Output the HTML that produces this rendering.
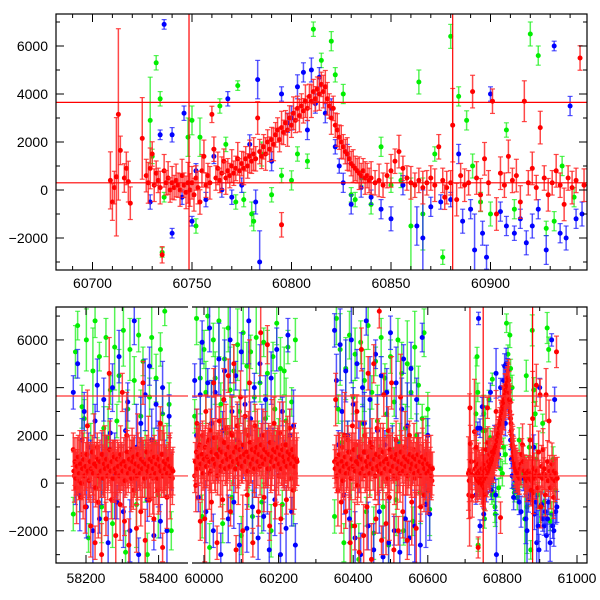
<!DOCTYPE html>
<html><head><meta charset="utf-8"><style>
html,body{margin:0;padding:0;background:#fff;}
svg{display:block;font-family:"Liberation Sans",Arial,sans-serif;}
</style></head><body>
<svg id="chart" width="600" height="600" viewBox="0 0 600 600" xmlns="http://www.w3.org/2000/svg">
<rect x="0" y="0" width="600" height="600" fill="#fff"/>
</svg>
<script>
const redT=[60709,60710,60711,60712,60713,60714,60716,60717,60718,60719,60725,60727,60728,60729,60730,60731,60732,60733,60734,60735,60736,60737,60738,60739,60740,60741,60742,60743,60744,60745,60746,60747,60748,60749,60750,60751,60752,60753,60754,60755,60756,60757,60758,60759,60760,60761,60762,60763,60764,60765,60766,60767,60768,60769,60770,60771,60772,60773,60774,60775,60776,60777,60778,60779,60780,60781,60782,60783,60784,60785,60786,60787,60788,60789,60790,60791,60792,60793,60794,60795,60796,60797,60798,60799,60800,60801,60802,60803,60804,60805,60806,60807,60808,60809,60810,60811,60812,60813,60814,60815,60816,60817,60818,60819,60820,60821,60822,60823,60824,60825,60826,60827,60828,60829,60830,60831,60832,60833,60834,60835,60836,60837,60838,60839,60840,60842,60844,60846,60848,60850,60852,60854,60856,60858,60860,60862,60864,60866,60868,60870,60872,60874,60876,60878,60880,60881,60883,60885,60887,60889,60891,60893,60895,60897,60899,60901,60903,60905,60907,60909,60911,60913,60915,60917,60919,60921,60923,60925,60927,60929,60931,60933,60935,60937,60939,60941,60943,60945,60947,60795,60877];
const redY=[400,-500,100,550,3150,1650,500,900,350,-550,2150,600,300,900,1500,200,700,400,100,-2700,800,300,500,0,300,100,400,200,0,600,200,-100,300,0,300,-200,500,100,-500,800,1400,200,600,300,3150,1700,500,900,400,700,1200,500,800,600,1000,700,900,1300,800,1100,900,1300,1000,1400,1200,1500,1300,3000,1600,1400,1800,1500,2000,1700,2100,1900,2300,2500,2100,2600,2400,2800,2500,3000,2700,3200,2900,3400,3100,3500,3300,3700,3400,3900,3700,4100,3800,4200,4000,4400,4100,4300,3800,3500,3000,3400,2700,2500,2200,2000,1800,1600,1500,1300,1100,1000,900,800,700,600,800,500,600,400,500,300,400,200,600,800,1200,1600,900,500,300,200,400,100,300,500,200,1800,400,100,300,2700,-400,600,200,300,4100,500,-200,1300,300,3700,-1000,700,200,1400,400,600,-500,3700,300,900,100,2600,500,-200,300,800,200,-600,500,100,400,5500,200,-1450,-300];
const redE=[700,450,400,1450,2100,350,350,400,500,400,1000,400,500,500,300,400,300,300,400,200,400,300,400,300,400,300,400,300,400,400,300,400,500,400,400,400,300,400,300,400,400,300,300,400,200,300,300,400,300,400,300,400,300,300,400,300,300,400,300,300,400,300,300,400,300,400,300,400,300,300,300,400,300,300,300,400,300,300,300,400,300,300,400,300,300,400,300,300,400,300,300,400,300,300,400,300,300,300,400,300,400,400,400,300,400,300,300,400,300,400,300,300,400,300,300,400,300,300,400,300,300,400,300,300,400,300,400,300,300,400,300,400,300,300,400,300,300,400,300,300,400,300,300,400,300,900,400,300,400,300,400,400,400,400,300,300,400,400,300,400,300,400,400,500,300,400,300,400,300,400,300,400,300,400,300,400,300,300,400,300,300];
const blueT=[60736,60734,60740,60740,60746,60750,60761,60768,60779,60783,60784,60782,60795,60798,60800,60803,60806,60810,60814,60820,60822,60826,60830,60835,60840,60845,60850,60856,60863,60866,60870,60875,60880,60884,60886,60890,60892,60896,60898,60900,60905,60908,60912,60915,60918,60921,60924,60928,60932,60935,60938,60940,60943,60946,60790,60775,60770,60765,60757,60752,60745,60729,60808,60812,60817,60824,60828];
const blueY=[6900,2300,2300,-1800,3200,-1300,1400,3800,1900,4600,-3000,-500,4000,2800,3000,4300,4900,5000,4700,3400,1800,300,-600,100,-300,-800,-1200,200,-1500,-2000,-700,-500,-400,1500,-1300,-800,-2500,-1800,-2800,4000,-900,-1500,-1800,-1200,-2200,-1500,-800,-2500,6000,-1800,-2000,3500,-1200,-1000,1200,200,-300,0,-400,800,-300,-500,2500,3600,3200,1000,1500];
const blueE=[200,200,300,200,300,200,300,300,400,800,1300,500,300,400,500,500,400,500,400,400,300,400,400,400,300,400,500,400,800,2000,400,300,300,400,500,400,1500,500,500,300,400,400,300,400,500,500,400,600,200,400,500,400,400,500,400,300,300,300,300,300,300,300,400,400,400,300,400];
const greenT=[60729,60730,60732,60734,60735,60736,60748,60750,60752,60754,60764,60767,60773,60772,60776,60780,60781,60785,60790,60795,60800,60803,60808,60811,60815,60820,60822,60826,60830,60832,60835,60840,60845,60850,60855,60860,60864,60866,60872,60876,60880,60884,60888,60891,60895,60900,60908,60912,60920,60924,60928,60932,60936,60942];
const greenY=[2900,1400,5300,3800,-2600,-300,2200,2900,-1500,2200,3500,1900,4350,-500,-400,-1000,-1300,1500,-200,600,400,1500,1200,6700,5400,6200,4800,4000,-200,-400,500,-600,1800,200,400,-1500,4500,-1000,1500,-2800,6400,3900,2900,1000,-500,-1000,2500,-800,6500,5600,-1600,-1300,1000,-300];
const greenE=[1800,300,300,300,200,200,800,600,300,800,300,300,200,300,300,500,400,500,300,300,400,300,300,300,300,400,300,400,300,300,300,400,400,300,300,2000,500,1500,300,300,500,400,400,500,400,500,300,400,500,400,300,400,400,400];
const seasonStart=[58165,59975,60350];
const redStep=3, bgStep=[6,5,5];
const redA=[1400,300,800,-200,500,100,900,-600,1200,300,600,-1000,400,2400,700,200,-1800,900,500,1100,-2500,300,1500,-800,700,200,-3000,1000,400,600,-1500,900,300,4600,800,-700,500,1200,200,-2200,700,400,1000,-900,600,3800,300,-1600,800,2000,500,-2600,900,300,1400,-300,700,200,-1900,1100,500,800,-1200,400,4200,600,-2400,900,300,1000,-700,500,1300,200,-1500,800,400,1100,-300,600,2500,500,-2700,900,300,700,-600,400,1000,300,500,200];
const redB=[300,-100,2500,800,1500,-1600,600,2000,1200,-1500,3000,900,1700,400,2200,-800,1400,4200,700,1900,-2500,1100,2600,500,1800,-700,3500,1000,2300,600,4500,1300,-1200,2100,800,5000,1500,-2800,2400,900,1700,3600,600,-2000,1300,2800,1000,-500,2000,4200,700,1500,-2500,1100,2400,600,1800,-1200,1300,6300,900,2000,-600,1500,800,5800,1200,-1800,600,1700,1000,2500,-900,700,1400,300,2100,-1500,900,1600,400,1100,-700,1300,600,2300,200,900,-300,700,400,1000];
const redC=[900,3500,200,-300,1200,600,-800,1500,300,2000,-1200,800,1800,400,-2500,1300,2400,700,-1800,1600,3000,500,-2900,1100,5600,900,-2200,2000,1300,-1000,4600,800,1700,-3200,1200,5000,600,-1500,2300,900,7200,1400,-2400,800,3700,1100,-1700,500,2200,-600,1300,4200,700,-2800,1000,1800,200,-2000,600,3600,1300,-1200,900,1500,400,-2400,1100,2000,500,-800,700,1400,200,-1900,800,1100,300,-1000,600,900,-500,400,1200,200,-300,500,700,100];
const bandA=[500,900,200,700,1100,400,800,0,600,1000,300,700,1200,500,100,900,600,1300,400,800,-200,700,1000,300,900,500,1200,200,800,600,1000,300,700,1400,500,900,200,1100,600,400,1000,700,300,1200,800,500,900,100,700,1300,400,1000,600,200,900,1100,500,800,300,1200,700,400,1000,600,900,200,800,1300,500,700,1000,300,900,600,1100,400,800,200,1000,700,500,1200,300,900,600,800,400,1000,700,300,600,500];
const bandB=[900,1300,600,1100,1600,800,1200,400,1000,1500,700,1100,1800,900,500,1300,1000,1900,800,1200,300,1100,1400,700,1300,900,1700,600,1200,1000,1500,700,1100,2000,900,1300,600,1500,1000,800,1400,1100,700,1600,1200,900,1300,500,1100,1700,800,1400,1000,600,1300,1500,900,1200,700,1600,1100,800,1400,1000,1300,600,1200,1700,900,1100,1400,700,1300,1000,1500,800,1200,600,1400,1100,900,1600,700,1300,1000,1200,800,1400,1100,700,1000,900];
const bandC=[600,1000,300,800,1200,500,900,100,700,1100,400,800,1300,600,200,1000,700,1400,500,900,-100,800,1100,400,1000,600,1300,300,900,700,1100,400,800,1500,600,1000,300,1200,700,500,1100,800,400,1300,900,600,1000,200,800,1400,500,1100,700,300,1000,1200,600,900,400,1300,800,500,1100,700,1000,300,900,1200,600,800,1100,400,1000,700,1200,500,900,300,1100,800,600,1000,400,800,500,700,300,600];
const blueA=[3800,200,5000,-500,1800,3000,-1000,1500,800,-2000,2600,4100,-1500,600,3500,1200,-2500,2100,4000,300,-800,5300,1000,-1200,2200,3400,-2000,700,6800,1500,-3000,2500,1000,3700,-700,4900,1800,-2200,3300,800,-1600,4000,1200,-2000,2800,500];
const blueB=[4300,2000,-600,3700,5900,1200,-1200,4200,6500,2500,-2000,3800,700,5200,-3000,2200,4700,1000,-1500,6000,3000,-800,4500,1800,-2600,5500,1500,3300,-1900,6800,2700,-1000,4000,900,-2300,5000,2000,-1400,3500,500,-2800,4400,1700,-700,5600,1200,-3000,3000,800,-1900,6200,2000,-1200,2400,-2600];
const blueC=[6400,4300,1600,5800,3000,-500,4700,2000,-1500,6000,3300,-2300,5000,1100,-3000,4000,2500,6800,-1800,3500,1000,-2800,5400,2200,-1200,4500,-3100,1600,3800,-2500,6300,1300,-2000,4200,800,-2900,3100,5200,-1500,2400,-2300,4800,600,-1800,3500,1300,-2600,6100,400,-900,2000,-1300];
const greenA=[-1300,5500,6600,300,3200,2700,6000,-2300,1500,4700,6800,800,5300,-1000,2300,6100,1900,3900,-1700,5700,2600,4500,900,6400,-2900,3100,5600,1200,4300,-900,6200,2800,5100,700,-3000,3600,6100,1700,4400,-500,5600,2900,7200,1000,3300,-2000];
const greenB=[2800,6900,1800,4400,-1400,5600,3800,7000,-2700,2500,6000,4400,1500,6800,3300,-1700,5200,2100,6500,3900,-600,4700,1300,5800,3000,-2200,6300,2200,4900,800,5500,-1400,3600,6100,1700,4200,-800,5900,2700,4600,1000,-2000,5300,3100,6700,1900,4800,-900,4700,2600,5700,1200,3400,-300,6000];
const greenC=[-1400,6900,3100,5600,1700,-2500,4800,2000,6200,-1800,3600,5400,1000,-3200,5900,2500,4300,-1200,6600,1300,3800,-2100,5100,2600,700,6100,-1000,4400,2900,-2600,5300,1400,3400,-700,6000,1700,4600,-2000,2300,5000,800,3800,-1600,5700,2000,4100,-400,2700,6300,1000,3100,-1100];
const errCycle=[700,1100,600,1500,900,800,1300,600,1000,1800];
const bandErr=[800,1000,700,1200,900];
const hLines=[3650,300];
const vLines=[60748.5,60881];
const yTicks=[-2000,0,2000,4000,6000];
const topXTicks=[60700,60750,60800,60850,60900];
const botXTicks=[58200,58400,60000,60200,60400,60600,60800,61000];

const NS='http://www.w3.org/2000/svg';
const svg=document.getElementById('chart');
function el(tag,attrs,parent){const e=document.createElementNS(NS,tag);for(const k in attrs)e.setAttribute(k,attrs[k]);(parent||svg).appendChild(e);return e;}
const COL={red:['#ff0000','rgba(255,40,40,0.85)'],blue:['#0000ff','rgba(30,30,255,0.75)'],green:['#00ee00','rgba(30,240,30,0.75)']};

const TOP={x0:56,x1:587,y0:14,y1:270,ymin:-3333,ymax:7333};
const BOT={x0:56,x1:587,y0:307,y1:563,ymin:-3350,ymax:7380};
function yS(p,v){return p.y1-(v-p.ymin)/(p.ymax-p.ymin)*(p.y1-p.y0);}
function xTop(t){return 92.5+(t-60700)*1.99;}
function xBot(t){return t<59000?86+(t-58200)*0.363:204+(t-60000)*0.373;}

const defs=el('defs',{});
const c1=el('clipPath',{id:'clipTop'},defs);el('rect',{x:TOP.x0,y:TOP.y0,width:TOP.x1-TOP.x0,height:TOP.y1-TOP.y0},c1);
const c2=el('clipPath',{id:'clipB1'},defs);el('rect',{x:56,y:BOT.y0,width:132,height:BOT.y1-BOT.y0},c2);
const c3=el('clipPath',{id:'clipB2'},defs);el('rect',{x:192,y:BOT.y0,width:395,height:BOT.y1-BOT.y0},c3);

function drawPoint(g,x,p,y,e,c){
  const ya=yS(p,y+e),yb=yS(p,y-e),yc=yS(p,y);
  const l=el('line',{x1:x,y1:ya,x2:x,y2:yb,stroke:COL[c][1],'stroke-width':1.5},g);
  
  
  el('line',{x1:x-2.5,y1:ya,x2:x+2.5,y2:ya,stroke:COL[c][1],'stroke-width':1.2},g);
  el('line',{x1:x-2.5,y1:yb,x2:x+2.5,y2:yb,stroke:COL[c][1],'stroke-width':1.2},g);
  const d=el('circle',{cx:x,cy:yc,r:2.5,fill:COL[c][0]},g);
  
  
}
function drawExplicit(g,p,xf,T,Y,E,c,scale){for(let i=0;i<T.length;i++)drawPoint(g,xf(T[i]),p,Y[i],E[i]*scale,c);}
function drawSeason(g,p,start,step,Y,c,errs){for(let i=0;i<Y.length;i++)drawPoint(g,xBot(start+i*step),p,Y[i],errs[i%errs.length],c);}

function frame(p,name){
  const r=el('rect',{x:p.x0,y:p.y0,width:p.x1-p.x0,height:p.y1-p.y0,fill:'none',stroke:'#000','stroke-width':1.2});
  
  
}
function yAxis(p,name){
  const g=el('g',{});
  
  
  for(let v=-3000;v<=7000;v+=1000){
    const y=yS(p,v),len=(v%2000===0)?8:4;
    el('line',{x1:p.x0,y1:y,x2:p.x0+len,y2:y,stroke:'#000','stroke-width':1},g);
    el('line',{x1:p.x1,y1:y,x2:p.x1-len,y2:y,stroke:'#000','stroke-width':1},g);
  }
  yTicks.forEach(v=>{const t=el('text',{x:48,y:yS(p,v)+5,'text-anchor':'end','font-size':14,fill:'#000'},g);t.textContent=(v<0?'\u2212'+(-v):''+v);});
}

// TOP PANEL
const gT=el('g',{'clip-path':'url(#clipTop)'});


drawExplicit(gT,TOP,xTop,greenT,greenY,greenE,'green',1);
drawExplicit(gT,TOP,xTop,blueT,blueY,blueE,'blue',1);
drawExplicit(gT,TOP,xTop,redT,redY,redE,'red',1.7);
hLines.forEach(v=>{const l=el('line',{x1:TOP.x0,x2:TOP.x1,y1:yS(TOP,v),y2:yS(TOP,v),stroke:'#ff0000','stroke-width':1.2},gT);});
vLines.forEach(v=>{const l=el('line',{x1:xTop(v),x2:xTop(v),y1:TOP.y0,y2:TOP.y1,stroke:'#ff0000','stroke-width':1.2},gT);});
frame(TOP,'top-panel-frame');
yAxis(TOP,'top-y-axis');
const gTX=el('g',{});


for(let t=60690;t<=60940;t+=10){const x=xTop(t),len=(t%50===0)?8:4;el('line',{x1:x,y1:TOP.y1,x2:x,y2:TOP.y1-len,stroke:'#000'},gTX);el('line',{x1:x,y1:TOP.y0,x2:x,y2:TOP.y0+len,stroke:'#000'},gTX);}
topXTicks.forEach(t=>{const tx=el('text',{x:xTop(t),y:TOP.y1+18,'text-anchor':'middle','font-size':14,fill:'#000'},gTX);tx.textContent=t;});

// BOTTOM PANEL
const gB1=el('g',{'clip-path':'url(#clipB1)'});


const gB2=el('g',{'clip-path':'url(#clipB2)'});


drawSeason(gB1,BOT,seasonStart[0],bgStep[0],greenA,'green',errCycle);
drawSeason(gB2,BOT,seasonStart[1],bgStep[1],greenB,'green',errCycle);
drawSeason(gB2,BOT,seasonStart[2],bgStep[2],greenC,'green',errCycle);
drawExplicit(gB2,BOT,xBot,greenT,greenY,greenE,'green',1.3);
drawSeason(gB1,BOT,seasonStart[0],bgStep[0],blueA,'blue',errCycle);
drawSeason(gB2,BOT,seasonStart[1],bgStep[1],blueB,'blue',errCycle);
drawSeason(gB2,BOT,seasonStart[2],bgStep[2],blueC,'blue',errCycle);
drawExplicit(gB2,BOT,xBot,blueT,blueY,blueE,'blue',1.3);
drawSeason(gB1,BOT,seasonStart[0],redStep,redA,'red',errCycle);
drawSeason(gB2,BOT,seasonStart[1],redStep,redB,'red',errCycle);
drawSeason(gB2,BOT,seasonStart[2],redStep,redC,'red',errCycle);
drawSeason(gB1,BOT,seasonStart[0]+1.5,redStep,bandA,'red',bandErr);
drawSeason(gB2,BOT,seasonStart[1]+1.5,redStep,bandB,'red',bandErr);
drawSeason(gB2,BOT,seasonStart[2]+1.5,redStep,bandC,'red',bandErr);
drawExplicit(gB2,BOT,xBot,redT,redY,redE,'red',2.2);
[gB1,gB2].forEach(g=>hLines.forEach(v=>{const l=el('line',{x1:BOT.x0,x2:BOT.x1,y1:yS(BOT,v),y2:yS(BOT,v),stroke:'#ff3333','stroke-width':1.2},g);}));
vLines.forEach(v=>{const l=el('line',{x1:xBot(v),x2:xBot(v),y1:BOT.y0,y2:BOT.y1,stroke:'#ff0000','stroke-width':1.2},gB2);});
const gBF=el('g',{fill:'none',stroke:'#000','stroke-width':1.2});


el('polyline',{points:`188,${BOT.y0} 56,${BOT.y0} 56,${BOT.y1} 188,${BOT.y1}`},gBF);
el('polyline',{points:`192,${BOT.y0} 587,${BOT.y0} 587,${BOT.y1} 192,${BOT.y1}`},gBF);
yAxis(BOT,'bottom-y-axis');
const gBX=el('g',{});


for(let t=58100;t<=58500;t+=100){const x=xBot(t);if(x<57||x>187)continue;const len=(t%200===0)?8:4;el('line',{x1:x,y1:BOT.y1,x2:x,y2:BOT.y1-len,stroke:'#000'},gBX);el('line',{x1:x,y1:BOT.y0,x2:x,y2:BOT.y0+len,stroke:'#000'},gBX);}
for(let t=60000;t<=61000;t+=100){const x=xBot(t);const len=(t%200===0)?8:4;el('line',{x1:x,y1:BOT.y1,x2:x,y2:BOT.y1-len,stroke:'#000'},gBX);el('line',{x1:x,y1:BOT.y0,x2:x,y2:BOT.y0+len,stroke:'#000'},gBX);}
botXTicks.forEach(t=>{const tx=el('text',{x:xBot(t),y:BOT.y1+20,'text-anchor':'middle','font-size':14,fill:'#000'},gBX);tx.textContent=t;});
</script>
</body></html>
